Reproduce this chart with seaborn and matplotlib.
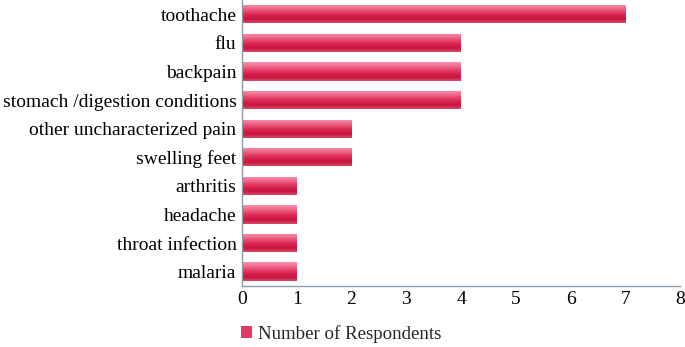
import seaborn as sns
import matplotlib.pyplot as plt
import pandas as pd
import numpy as np
from matplotlib.colors import LinearSegmentedColormap
from matplotlib.patches import Patch

# data
conditions = [
    "toothache",
    "flu",
    "backpain",
    "stomach /digestion conditions",
    "other uncharacterized pain",
    "swelling feet",
    "arthritis",
    "headache",
    "throat infection",
    "malaria",
]
respondents = [7, 4, 4, 4, 2, 2, 1, 1, 1, 1]

df = pd.DataFrame({"Condition": conditions, "Respondents": respondents})

sns.set_style("white")
plt.rcParams["font.family"] = ["Liberation Serif", "DejaVu Serif"]

fig = plt.figure(figsize=(6.85, 3.47), dpi=100)
ax = fig.add_axes([0.3533, 0.176, 0.6394, 0.824])

sns.barplot(
    data=df,
    x="Respondents",
    y="Condition",
    color="#e23a62",
    width=0.64,
    ax=ax,
)

# cylinder-like shading on each bar
shade = LinearSegmentedColormap.from_list(
    "shade", ["#f591ab", "#ef6f90", "#e6446a", "#d82250", "#c9143a", "#d94a68"]
)
grad = np.linspace(0, 1, 64).reshape(-1, 1)
for p in list(ax.patches):
    x0, y0 = p.get_x(), p.get_y()
    w, h = p.get_width(), p.get_height()
    im = ax.imshow(
        grad,
        cmap=shade,
        aspect="auto",
        extent=[x0, x0 + w, y0 + h, y0],
        zorder=p.get_zorder() + 0.1,
    )
    im.set_clip_path(p)

ax.set_xlim(0, 8)
ax.set_ylim(9.5, -0.5)
ax.set_xticks(range(0, 9))
ax.set_xlabel("")
ax.set_ylabel("")
ax.tick_params(axis="both", length=0, labelsize=14, colors="black")
ax.tick_params(axis="x", pad=4)
ax.tick_params(axis="y", pad=4)

for side in ["top", "right"]:
    ax.spines[side].set_visible(False)
for side in ["left", "bottom"]:
    ax.spines[side].set_color("#8c9ca4")
    ax.spines[side].set_linewidth(1.0)

handle = Patch(facecolor="#e23a62", edgecolor="none")
fig.legend(
    [handle],
    ["Number of Respondents"],
    loc="center left",
    bbox_to_anchor=(0.327, 0.037),
    frameon=False,
    fontsize=13.6,
    handlelength=0.6,
    handleheight=0.6,
    handletextpad=0.3,
)

fig.savefig("out.png", dpi=100)
